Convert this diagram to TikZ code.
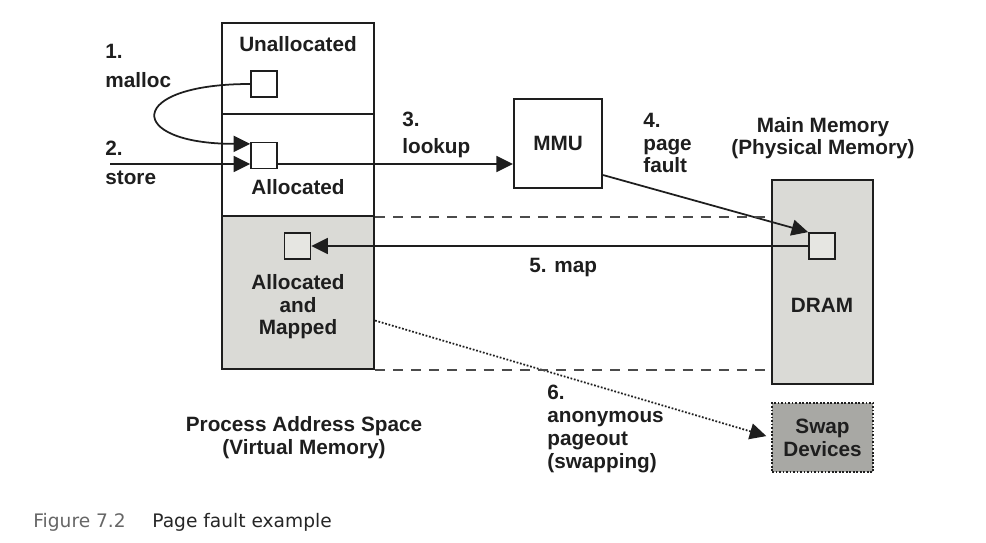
\documentclass[tikz,border=0pt]{standalone}
\usepackage{fontspec}
\setmainfont{Liberation Sans}
\newfontfamily\capfont{DejaVu Sans}
\usetikzlibrary{calc,arrows.meta}
\definecolor{linegray}{HTML}{1E1E1E}
\definecolor{memgray}{HTML}{DADAD6}
\definecolor{cellgray}{HTML}{E6E6E2}
\definecolor{swapgray}{HTML}{A8A8A4}
\tikzset{
  txt/.style={font=\bfseries\fontsize{11.8}{13}\selectfont, inner sep=0pt, text=linegray},
  region/.style={draw=linegray, line width=1.2pt, minimum width=3.04cm, inner sep=0pt},
  membox/.style={draw=linegray, line width=1.2pt, minimum width=2.02cm, inner sep=0pt, txt},
  cell/.style={draw=linegray, line width=1pt, minimum size=0.52cm, inner sep=0pt, fill=white},
  arr/.style={-{Triangle[length=0.33cm,width=0.32cm]}, line width=1pt, draw=linegray},
  guide/.style={draw=linegray!80, line width=1pt, dash pattern=on 5.7pt off 4.6pt},
  dots/.style={draw=linegray, line width=1pt, dash pattern=on 1pt off 1pt}
}
\begin{document}
\begin{tikzpicture}[x=0.02cm, y=-0.02cm]
        \useasboundingbox (0,0) rectangle (986,543);
        %
        % process address space
        \node[region, minimum height=1.82cm] (unalloc) at (298,68.5) {};
        \node[region, minimum height=2.04cm] (alloc) at (298,165) {};
        \node[region, minimum height=3.06cm, fill=memgray] (mapped) at (298,292.5) {};
        \node[cell] (sqA) at (264,84) {};
        \node[cell] (sqB) at (264,155.5) {};
        \node[cell, fill=cellgray] (sqM) at (297.5,246) {};
        %
        % mmu, dram, swap
        \node[membox, minimum width=1.76cm, minimum height=1.78cm] (mmu) at (558,143.5) {MMU};
        \node[membox, minimum height=4.08cm, fill=memgray] (dram) at (822.5,282) {};
        \node[cell, fill=cellgray] (sqD) at (822,246) {};
        \node[membox, minimum height=1.38cm, fill=swapgray, dots, align=center] (swap) at (822.5,437.5) {Swap\\Devices};
        %
        % labels (base = last line)
        \node[txt, anchor=base] (tUnalloc) at (298,52) {Unallocated};
        \node[txt, anchor=base] (tAlloc) at (298,195) {Allocated};
        \node[txt, anchor=base, align=center] (tMapped) at (298,335) {Allocated\\and\\Mapped};
        \node[txt, anchor=base] (tDram) at (822,313) {DRAM};
        \node[txt, anchor=base, align=center] (tMain) at (823,155) {Main Memory\\(Physical Memory)};
        \node[txt, anchor=base, align=center] (tProc) at (304,454) {Process Address Space\\(Virtual Memory)};
        \node[txt, anchor=base west, align=left] (tMalloc) at (105,88) {1.\\[4pt]malloc};
        \node[txt, anchor=base west, align=left] (tStore) at (105,185) {2.\\[4pt]store};
        \node[txt, anchor=base west, align=left] (tLookup) at (402,154) {3.\\[2.6pt]lookup};
        \node[txt, anchor=base west, align=left] (tFault) at (643,173) {4.\\page\\fault};
        \node[txt, anchor=base west] (tMap) at (529,273) {5. map};
        \node[txt, anchor=base west, align=left] (tSwap) at (547,468) {6.\\anonymous\\pageout\\(swapping)};
        %
        % connectors
        \coordinate (storeIn) at (110,164);
        \draw[arr] (sqA.west) .. controls ($(sqA.west)+(-125,0)$) and ($(sqB.140)+(-125,0)$) .. (sqB.140);
        \draw[arr] (storeIn) -- (storeIn -| sqB.west);
        \draw[arr] (storeIn -| sqB.east) -- (storeIn -| mmu.west);
        \draw[arr] (mmu.-35) -- (sqD.north west);
        \draw[arr] (sqD.west) -- (sqM.east);
        \draw[arr, dots, shorten >=0.1cm] (mapped.-20) -- (swap.west);
        \draw[guide] (alloc.south east) -- (alloc.south east -| dram.west);
        \draw[guide] (mapped.south east) -- (mapped.south east -| dram.west);
        %
        % caption
        \node[anchor=base west, inner sep=0pt, font=\capfont\fontsize{10.6}{12}\selectfont, text=black!60] (capNum) at (33,527) {Figure 7.2};
        \node[anchor=base west, inner sep=0pt, font=\capfont\fontsize{10.6}{12}\selectfont, text=black!85] (capText) at (152,527) {Page fault example};
\end{tikzpicture}
\end{document}
